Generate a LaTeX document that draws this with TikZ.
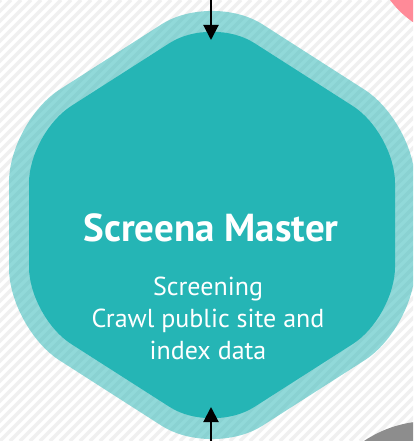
\documentclass[tikz,border=0pt]{standalone}
\usepackage{fontspec}
\setmainfont{PT Sans}
\usetikzlibrary{arrows.meta}
\definecolor{hexteal}{RGB}{37,181,181}
\definecolor{stripegray}{RGB}{240,240,240}
\definecolor{nbpink}{RGB}{255,138,152}
\definecolor{nbgray}{RGB}{141,141,141}
\tikzset{
  stripe/.style={stripegray,line width=3.5pt},
  flow/.style={-{Triangle[length=15pt,width=15pt]},line width=2pt},
  hextitle/.style={text=white,font=\bfseries\fontsize{39}{42}\selectfont},
  hextask/.style={text=white,align=center,font=\fontsize{26}{32}\selectfont},
}

\begin{document}
\begin{tikzpicture}[x=1pt,y=-1pt]
      \useasboundingbox (0,0) rectangle (413,441);
      \begin{scope}
        \clip (0,0) rectangle (413,441);
        \fill[white] (0,0) rectangle (413,441);
        \foreach \i in {-450,-440,...,420} \draw[stripe] (\i,441) -- ++(441,-441);
        % neighbours
        \fill[nbpink] (470,-60) circle (100);
        \fill[nbgray] (430,540) circle (119);
        % outer band
        \coordinate(OT)at(212,-8);
        \coordinate(OUL)at(9,122);
        \coordinate(OLL)at(9,328);
        \coordinate(OB)at(212,458);
        \coordinate(OLR)at(415,328);
        \coordinate(OUR)at(415,122);
        \fill[hexteal,opacity=.5,rounded corners=60] (OT)--(OUL)--(OLL)--(OB)--(OLR)--(OUR)--cycle;
        % inner hexagon
        \coordinate(T)at(212,16);
        \coordinate(UL)at(29,133);
        \coordinate(LL)at(29,317);
        \coordinate(B)at(212,434);
        \coordinate(LR)at(395,317);
        \coordinate(UR)at(395,133);
        \fill[hexteal,rounded corners=50] (T)--(UL)--(LL)--(B)--(LR)--(UR)--cycle;
      \end{scope}
      \node[hextitle,anchor=base](master)at(211,241){Screena Master};
      \node[hextask,anchor=base](duty)at(208,359){Screening\\Crawl public site and\\index data};
      \coordinate(feedin)at(211,-2);
      \coordinate(hextop)at(211,40);
      \coordinate(feedup)at(211,443);
      \coordinate(hexbot)at(211,407);
      \draw[flow](feedin)--(hextop);
      \draw[flow](feedup)--(hexbot);
    \end{tikzpicture}
\end{document}
